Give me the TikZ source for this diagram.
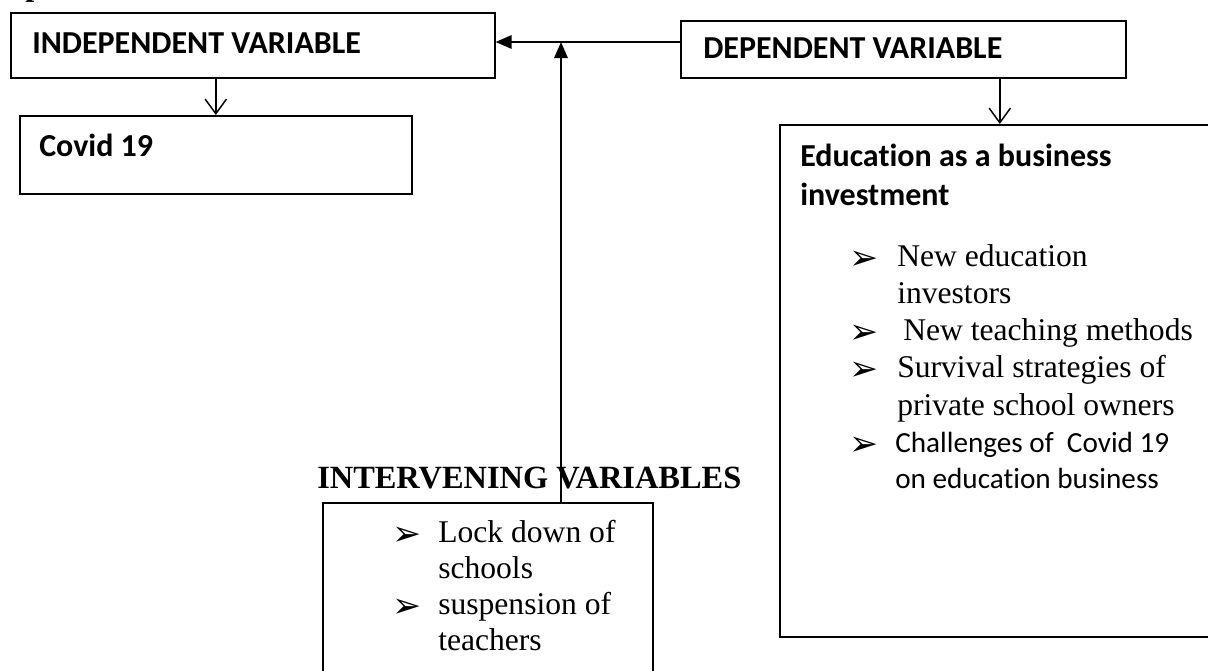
\documentclass[tikz,border=0pt]{standalone}
\usepackage{fontspec}
\setmainfont{Liberation Serif}
\newfontfamily\calfont[Ligatures=NoCommon]{Carlito}
\newfontfamily\dvfont{DejaVu Sans}
\usetikzlibrary{arrows.meta}
\begin{document}
\begin{tikzpicture}[x=0.75pt,y=-0.75pt,
  box/.style={draw, line width=1.2pt, inner sep=0, anchor=north west},
  lbl/.style={anchor=base west, inner sep=0},
  cb/.style={lbl, font=\calfont\bfseries\fontsize{24}{28}\selectfont},
  cr/.style={lbl, font=\calfont\fontsize{21.9}{26}\selectfont},
  tr/.style={lbl, font=\fontsize{23.7}{28}\selectfont},
  tb/.style={lbl, font=\bfseries\fontsize{24.3}{28}\selectfont},
  bul/.style={lbl, font=\dvfont\fontsize{26}{30}\selectfont},
  openarrow/.style={line width=1.2pt, -{Straight Barb[length=11pt,width=16pt,line width=1.1pt]}},
  fillarrow/.style={line width=1.5pt, -{Triangle[length=12pt,width=10pt]}}
]
\useasboundingbox (0,0) rectangle (1208,671);
\clip (0,0) rectangle (1208,671);
% boxes
\node[box, minimum width=363pt, minimum height=48.75pt] (ind) at (10,12) {};
\node[box, minimum width=294pt, minimum height=58.5pt] (cov) at (19,115) {};
\node[box, minimum width=333.75pt, minimum height=42.75pt] (dep) at (680,20) {};
\node[box, minimum width=330pt, minimum height=384pt] (edu) at (779,124) {};
\node[box, minimum width=247.5pt, minimum height=150pt] (int) at (322,502) {};
% texts
\node[tb] (ptop) at (25,-4) {p};
\node[cb] (indt) at (32,53) {INDEPENDENT VARIABLE};
\node[cb] (covt) at (39,156) {Covid 19};
\node[cb] (dept) at (703,58) {DEPENDENT VARIABLE};
\node[cb] (edut1) at (800,166) {Education as a business};
\node[cb] (edut2) at (800,205) {investment};
\node[bul] (eb1) at (849,269) {➢};
\node[tr] (e1a) at (897,266) {New education};
\node[tr] (e1b) at (897,303) {investors};
\node[bul] (eb2) at (849,343) {➢};
\node[tr] (e2) at (903,340) {New teaching methods};
\node[bul] (eb3) at (849,380) {➢};
\node[tr] (e3a) at (897,377) {Survival strategies of};
\node[tr] (e3b) at (897,415) {private school owners};
\node[bul] (eb4) at (849,455) {➢};
\node[cr] (e4a) at (895,452) {Challenges of\ \ Covid 19};
\node[cr] (e4b) at (895,488) {on education business};
\node[tb] (intt) at (317,488) {INTERVENING VARIABLES};
\node[bul] (ib1) at (392,545) {➢};
\node[tr] (i1a) at (438,542) {Lock down of};
\node[tr] (i1b) at (438,578) {schools};
\node[bul] (ib2) at (392,617) {➢};
\node[tr] (i2a) at (438,614) {suspension of};
\node[tr] (i2b) at (438,650) {teachers};
% connectors
\coordinate (j) at (561,42);
\draw[openarrow] (cov.north |- ind.south) -- (cov.north);
\draw[openarrow] (edu.north |- dep.south) -- (edu.north);
\draw[fillarrow] (dep.west |- j) -- (ind.east |- j);
\draw[fillarrow] (int.north -| j) -- (j);
\end{tikzpicture}
\end{document}
